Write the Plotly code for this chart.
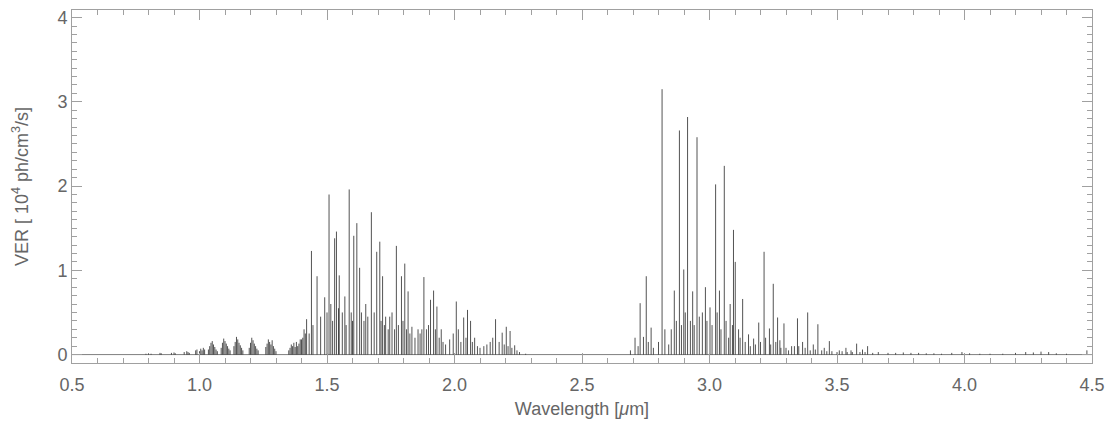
import plotly.graph_objects as go

# ---- data: emission lines (wavelength in µm, VER in 1e4 ph/cm3/s) ----
short_wl = [0.79, 0.80, 0.81, 0.845, 0.85, 0.89, 0.90, 0.905, 0.94, 0.95, 0.955, 0.96,
            0.985, 0.99, 1.00, 1.005, 1.01, 1.015, 1.02,
            1.035, 1.04, 1.045, 1.05, 1.055, 1.06, 1.065, 1.07,
            1.085, 1.09, 1.095, 1.10, 1.105, 1.11, 1.115, 1.12,
            1.135, 1.14, 1.145, 1.15, 1.155, 1.16, 1.165, 1.17,
            1.195, 1.20, 1.205, 1.21, 1.215, 1.22, 1.225, 1.23,
            1.26, 1.265, 1.27, 1.275, 1.28, 1.285, 1.29, 1.295, 1.30,
            1.35, 1.355, 1.36, 1.365, 1.37, 1.375, 1.38, 1.385, 1.39, 1.395,
            1.40, 1.405, 1.41, 1.415]
short_ver = [0.01, 0.015, 0.01, 0.02, 0.015, 0.02, 0.025, 0.015, 0.03, 0.04, 0.03, 0.02,
             0.05, 0.06, 0.04, 0.07, 0.05, 0.08, 0.06,
             0.06, 0.10, 0.14, 0.16, 0.12, 0.09, 0.06, 0.04,
             0.08, 0.14, 0.19, 0.16, 0.13, 0.10, 0.07, 0.05,
             0.10, 0.15, 0.21, 0.18, 0.14, 0.11, 0.08, 0.05,
             0.08, 0.14, 0.20, 0.17, 0.13, 0.10, 0.07, 0.05,
             0.09, 0.13, 0.18, 0.15, 0.12, 0.17, 0.10, 0.07, 0.04,
             0.05, 0.08, 0.12, 0.10, 0.14, 0.09, 0.15, 0.10, 0.13, 0.18,
             0.18, 0.20, 0.30, 0.25]

band16_wl = [1.420, 1.430, 1.439, 1.445, 1.461, 1.475, 1.491, 1.500, 1.508, 1.515, 1.522,
             1.530, 1.537, 1.545, 1.548, 1.560, 1.570, 1.575, 1.587, 1.595, 1.600, 1.605,
             1.617, 1.628, 1.635, 1.645, 1.652, 1.660, 1.674, 1.685, 1.695, 1.707, 1.712,
             1.718, 1.725, 1.730, 1.740, 1.746, 1.755, 1.765, 1.772, 1.780, 1.792, 1.798,
             1.805, 1.812, 1.818, 1.825, 1.833, 1.845, 1.857, 1.865, 1.872, 1.880, 1.890,
             1.898, 1.906, 1.918, 1.925, 1.931, 1.940, 1.948, 1.955, 1.965, 1.981, 1.995,
             2.007, 2.015, 2.025, 2.036, 2.045, 2.051, 2.063, 2.070, 2.079, 2.090, 2.100,
             2.115, 2.127, 2.140, 2.150, 2.161, 2.175, 2.187, 2.195, 2.203, 2.210, 2.218,
             2.225, 2.236, 2.245, 2.255, 2.279]
band16_ver = [0.42, 0.25, 1.23, 0.35, 0.93, 0.45, 0.68, 0.50, 1.90, 0.60, 0.40,
              1.38, 1.46, 0.55, 0.94, 0.50, 0.69, 0.35, 1.96, 0.50, 0.40, 1.41,
              1.56, 1.03, 0.50, 0.40, 0.60, 0.45, 1.69, 0.50, 1.22, 1.34, 0.40,
              0.93, 0.35, 0.45, 0.30, 0.45, 0.50, 0.30, 1.29, 0.35, 0.93, 0.40,
              1.08, 0.30, 0.75, 0.25, 0.33, 0.20, 0.30, 0.25, 0.30, 0.92, 0.30,
              0.35, 0.65, 0.76, 0.30, 0.57, 0.20, 0.30, 0.15, 0.12, 0.18, 0.25,
              0.63, 0.30, 0.15, 0.44, 0.20, 0.53, 0.40, 0.15, 0.20, 0.10, 0.08,
              0.10, 0.12, 0.15, 0.20, 0.42, 0.15, 0.26, 0.12, 0.33, 0.10, 0.28,
              0.08, 0.11, 0.05, 0.03, 0.01]

band27_wl = [2.690, 2.708, 2.720, 2.728, 2.741, 2.752, 2.760, 2.771, 2.780, 2.800, 2.814,
             2.825, 2.840, 2.850, 2.862, 2.870, 2.882, 2.890, 2.899, 2.905, 2.914, 2.925,
             2.934, 2.940, 2.951, 2.960, 2.972, 2.984, 2.990, 3.002, 3.010, 3.024, 3.030,
             3.039, 3.045, 3.058, 3.065, 3.075, 3.081, 3.090, 3.094, 3.101, 3.114, 3.120,
             3.130, 3.140, 3.153, 3.160, 3.173, 3.180, 3.193, 3.200, 3.214, 3.220, 3.235,
             3.240, 3.250, 3.260, 3.267, 3.276, 3.280, 3.292, 3.300, 3.310, 3.322, 3.333,
             3.345, 3.350, 3.365, 3.375, 3.385, 3.395, 3.407, 3.415, 3.425, 3.440, 3.450,
             3.460, 3.470, 3.480, 3.500, 3.509, 3.520, 3.535, 3.540, 3.555, 3.560, 3.577,
             3.590, 3.600, 3.610, 3.620, 3.640, 3.662]
band27_ver = [0.05, 0.20, 0.10, 0.61, 0.21, 0.93, 0.15, 0.32, 0.08, 0.15, 3.15,
              0.30, 0.12, 0.30, 0.76, 0.40, 2.66, 0.35, 1.01, 0.50, 2.82, 0.40,
              0.75, 0.35, 2.58, 0.45, 0.50, 0.80, 0.40, 0.56, 0.35, 2.02, 0.50,
              0.76, 0.30, 2.24, 0.40, 0.20, 0.60, 0.35, 1.48, 1.10, 0.30, 0.20,
              0.66, 0.15, 0.24, 0.10, 0.19, 0.12, 0.38, 0.15, 1.22, 0.20, 0.31,
              0.12, 0.84, 0.15, 0.44, 0.17, 0.08, 0.37, 0.08, 0.05, 0.10, 0.10,
              0.43, 0.10, 0.15, 0.08, 0.50, 0.05, 0.12, 0.06, 0.36, 0.05, 0.08,
              0.04, 0.16, 0.04, 0.03, 0.05, 0.04, 0.08, 0.03, 0.05, 0.03, 0.13,
              0.03, 0.06, 0.03, 0.10, 0.02, 0.03]

tail_wl = [3.70, 3.73, 3.76, 3.79, 3.82, 3.85, 3.88, 3.91, 3.95, 3.99, 4.02, 4.06,
           4.10, 4.15, 4.20, 4.24, 4.27, 4.30, 4.33, 4.36, 4.40, 4.48]
tail_ver = [0.02, 0.02, 0.025, 0.02, 0.02, 0.015, 0.015, 0.01, 0.02, 0.03, 0.015, 0.01,
            0.01, 0.01, 0.02, 0.03, 0.025, 0.035, 0.03, 0.015, 0.01, 0.05]

x_ticks = [0.5, 1.0, 1.5, 2.0, 2.5, 3.0, 3.5, 4.0, 4.5]
y_ticks = [0, 1, 2, 3, 4]

# ---- build stick spectrum ----
all_wl = short_wl + band16_wl + band27_wl + tail_wl
all_ver = short_ver + band16_ver + band27_ver + tail_ver
xs, ys = [], []
for w, v in zip(all_wl, all_ver):
    xs += [w, w, None]
    ys += [0, v, None]

fig = go.Figure()
fig.add_trace(go.Scatter(x=xs, y=ys, mode="lines",
                         line=dict(color="rgba(0,0,0,0.68)", width=1),
                         hoverinfo="skip", showlegend=False))
# baseline
fig.add_trace(go.Scatter(x=[0.5, 4.5], y=[0, 0], mode="lines",
                         line=dict(color="rgba(0,0,0,0.5)", width=1),
                         hoverinfo="skip", showlegend=False))

axis_col = "#a0a0a0"
text_col = "#666666"
font_family = "Liberation Sans, Arial, sans-serif"

# the page body adds an 8 px offset, so the figure is sized to fit the window
fig.update_layout(
    width=1112, height=424,
    margin=dict(l=64, r=28, t=2, b=69, autoexpand=False),
    paper_bgcolor="white", plot_bgcolor="white",
    font=dict(family=font_family, color=text_col, size=18),
)
fig.update_xaxes(
    range=[0.5, 4.5], tickvals=x_ticks, ticktext=[f"{t:.1f}" for t in x_ticks],
    showgrid=False, zeroline=False, showline=True, linecolor=axis_col, linewidth=1,
    mirror="allticks", ticks="inside", ticklen=10, tickcolor=axis_col,
    minor=dict(dtick=0.1, ticks="inside", ticklen=5, tickcolor=axis_col),
    title=dict(text="Wavelength [<i>μ</i>m]", font=dict(size=18, color=text_col), standoff=8),
    tickfont=dict(size=18, color=text_col), automargin=False, ticklabelstandoff=5,
    ticklabeloverflow="allow",
)
fig.update_yaxes(
    range=[-0.1, 4.09], tickvals=y_ticks, ticktext=[str(t) for t in y_ticks],
    showgrid=False, zeroline=False, showline=True, linecolor=axis_col, linewidth=1,
    mirror="allticks", ticks="inside", ticklen=10, tickcolor=axis_col,
    minor=dict(dtick=0.1, ticks="inside", ticklen=5, tickcolor=axis_col),
    title=dict(text="VER [ 10<sup>4</sup> ph/cm<sup>3</sup>/s]", font=dict(size=18, color=text_col), standoff=24),
    tickfont=dict(size=18, color=text_col), automargin=False,
    ticklabeloverflow="allow",
)

fig.write_html("out.html")
